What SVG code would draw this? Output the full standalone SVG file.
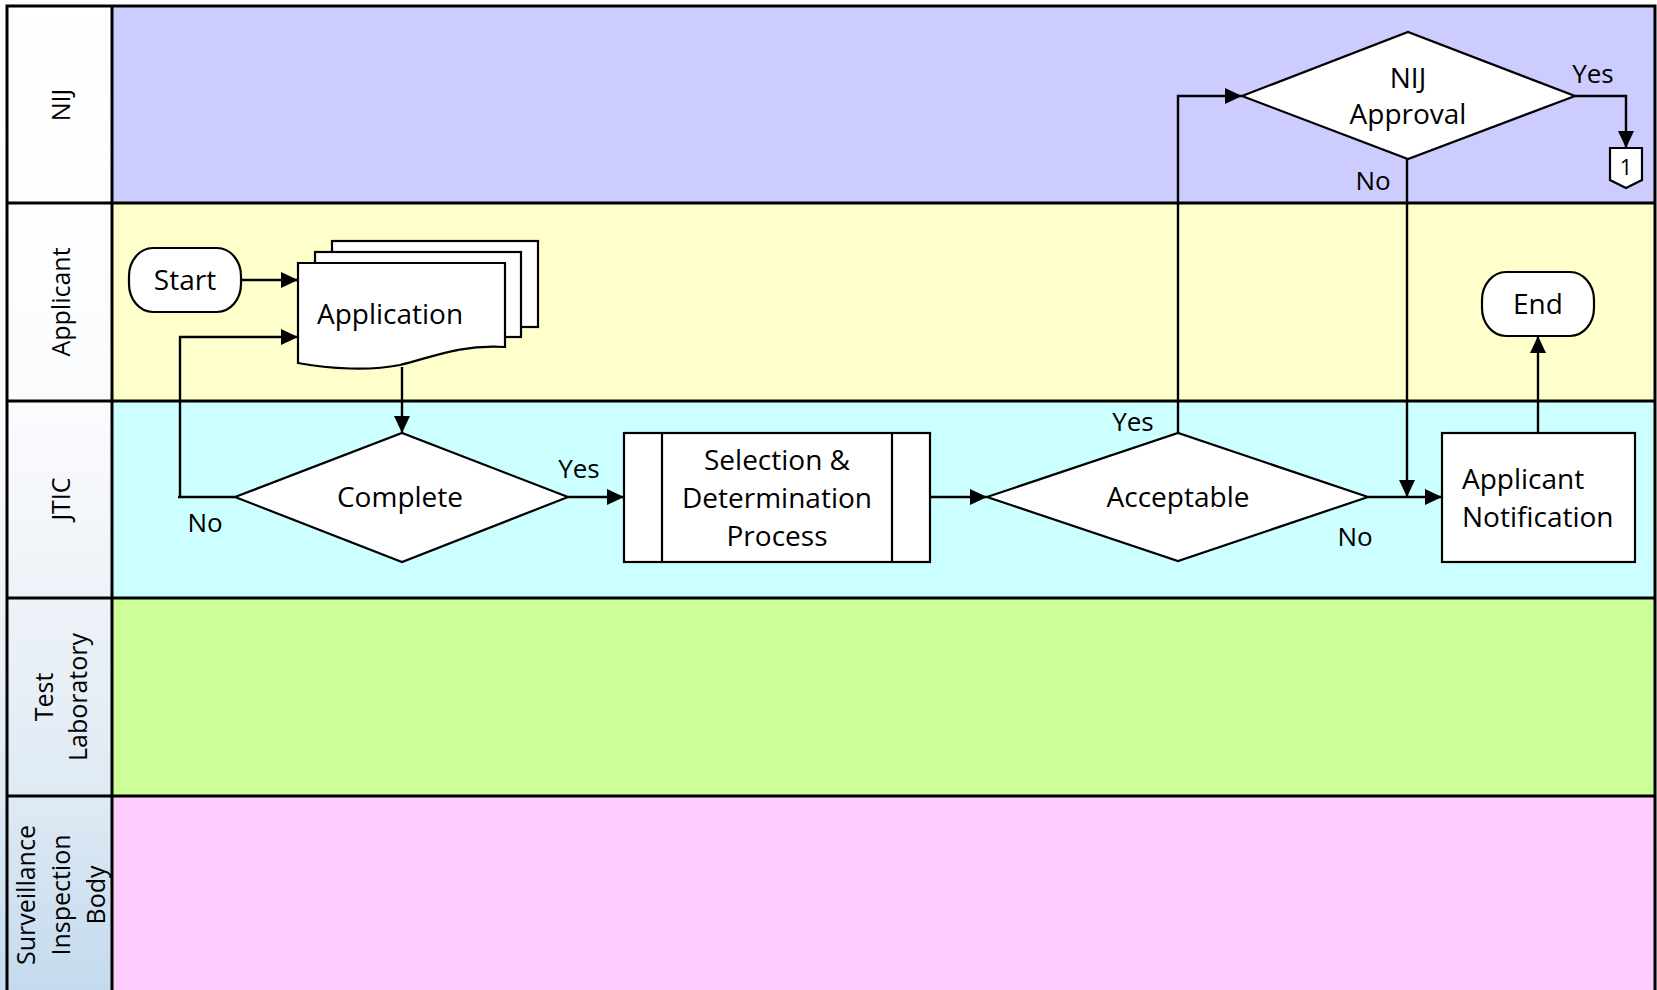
<svg xmlns="http://www.w3.org/2000/svg" width="1657" height="990" viewBox="0 0 1657 990">
<defs>
<linearGradient id="bg" x1="0" y1="0" x2="0" y2="1">
<stop offset="0" stop-color="#ffffff"/>
<stop offset="0.4" stop-color="#fbfcfe"/>
<stop offset="0.6" stop-color="#eef2f8"/>
<stop offset="0.8" stop-color="#dfeaf4"/>
<stop offset="1" stop-color="#c4daee"/>
</linearGradient>
<marker id="ah" markerUnits="userSpaceOnUse" markerWidth="18" markerHeight="16" refX="17" refY="8" orient="auto">
<path d="M0,0 L17,8 L0,16 Z" fill="#000"/>
</marker>
<style>
.lane{stroke:#000;stroke-width:3}
.hdr{font-family:"Open Sans","Noto Sans",sans-serif;font-size:25px;fill:#000;text-anchor:middle}
.shape{fill:#fff;stroke:#000;stroke-width:2.2}
.t{font-family:"Open Sans","Noto Sans",sans-serif;font-size:28px;fill:#000;text-anchor:middle}
.tl{font-family:"Open Sans","Noto Sans",sans-serif;font-size:28px;fill:#000}
.lbl{font-family:"Open Sans","Noto Sans",sans-serif;font-size:26px;fill:#000;text-anchor:middle}
.c{fill:none;stroke:#000;stroke-width:2.4;marker-end:url(#ah)}
.cn{fill:none;stroke:#000;stroke-width:2.2}
</style>
</defs>
<rect x="0" y="0" width="1657" height="990" fill="url(#bg)"/>
<g id="lanes">
<rect x="112" y="6" width="1543" height="197" fill="#ccccff"/>
<rect x="112" y="203" width="1543" height="198" fill="#ffffcc"/>
<rect x="112" y="401" width="1543" height="197" fill="#ccffff"/>
<rect x="112" y="598" width="1543" height="198" fill="#ccff99"/>
<rect x="112" y="796" width="1543" height="200" fill="#ffccff"/>
<path class="lane" fill="none" d="M7,996 L7,6 L1655,6 L1655,996 M112,6 L112,996 M7,203 L1655,203 M7,401 L1655,401 M7,598 L1655,598 M7,796 L1655,796"/>
<text class="hdr" transform="rotate(-90 70 105)" x="70" y="105">NIJ</text>
<text class="hdr" transform="rotate(-90 70 302)" x="70" y="302">Applicant</text>
<text class="hdr" transform="rotate(-90 70 499)" x="70" y="499">JTIC</text>
<text class="hdr" transform="rotate(-90 53 697)" x="53" y="697">Test</text>
<text class="hdr" transform="rotate(-90 87 697)" x="87" y="697">Laboratory</text>
<text class="hdr" transform="rotate(-90 35 895)" x="35" y="895">Surveillance</text>
<text class="hdr" transform="rotate(-90 70 895)" x="70" y="895">Inspection</text>
<text class="hdr" transform="rotate(-90 105 895)" x="105" y="895">Body</text>
</g>
<g id="connectors">
<path class="c" d="M241,280 L298,280"/>
<path class="c" d="M402,367 L402,433"/>
<path class="c" d="M235,497 L178,497 M180,497 L180,337 L298,337"/>
<path class="c" d="M568,497 L624,497"/>
<path class="c" d="M930,497 L987,497"/>
<path class="c" d="M1178,433 L1178,96 L1242,96"/>
<path class="c" d="M1575,96 L1626,96 L1626,148"/>
<path class="c" d="M1407,159 L1407,497"/>
<path class="c" d="M1368,497 L1442,497"/>
<path class="c" d="M1538,433 L1538,336"/>
<text class="lbl" x="205" y="532">No</text>
<text class="lbl" x="579" y="478">Yes</text>
<text class="lbl" x="1133" y="431">Yes</text>
<text class="lbl" x="1355" y="546">No</text>
<text class="lbl" x="1593" y="83">Yes</text>
<text class="lbl" x="1373" y="190">No</text>
</g>
<g id="start">
<rect class="shape" x="129" y="248" width="112" height="64" rx="24" ry="28"/>
<text class="t" x="185" y="290">Start</text>
</g>
<g id="application">
<rect class="shape" x="332" y="241" width="206" height="86"/>
<rect class="shape" x="315" y="252" width="206" height="85"/>
<path class="shape" d="M298,263 L505,263 L505,347 C460,344 430,358 400,365 C370,371 330,369 298,363 Z"/>
<text class="tl" x="317" y="324">Application</text>
</g>
<g id="complete">
<path class="shape" d="M235,497 L402,433 L568,497 L402,562 Z"/>
<text class="t" x="400" y="507">Complete</text>
</g>
<g id="selection">
<rect class="shape" x="624" y="433" width="306" height="129"/>
<path class="cn" d="M662,433 L662,562 M892,433 L892,562"/>
<text class="t" x="777" y="470">Selection &amp;</text>
<text class="t" x="777" y="508">Determination</text>
<text class="t" x="777" y="546">Process</text>
</g>
<g id="acceptable">
<path class="shape" d="M987,497 L1178,433 L1368,497 L1178,561 Z"/>
<text class="t" x="1178" y="507">Acceptable</text>
</g>
<g id="nij-approval">
<path class="shape" d="M1242,96 L1408,32 L1575,96 L1408,159 Z"/>
<text class="t" x="1408" y="88">NIJ</text>
<text class="t" x="1408" y="124">Approval</text>
</g>
<g id="offpage-1">
<path class="shape" d="M1610,148 L1642,148 L1642,180 L1626,188 L1610,180 Z"/>
<text class="t" x="1626" y="175" style="font-size:22px">1</text>
</g>
<g id="notification">
<rect class="shape" x="1442" y="433" width="193" height="129"/>
<text class="tl" x="1462" y="489">Applicant</text>
<text class="tl" x="1462" y="527">Notification</text>
</g>
<g id="end">
<rect class="shape" x="1482" y="272" width="112" height="64" rx="24" ry="28"/>
<text class="t" x="1538" y="314">End</text>
</g>
</svg>
